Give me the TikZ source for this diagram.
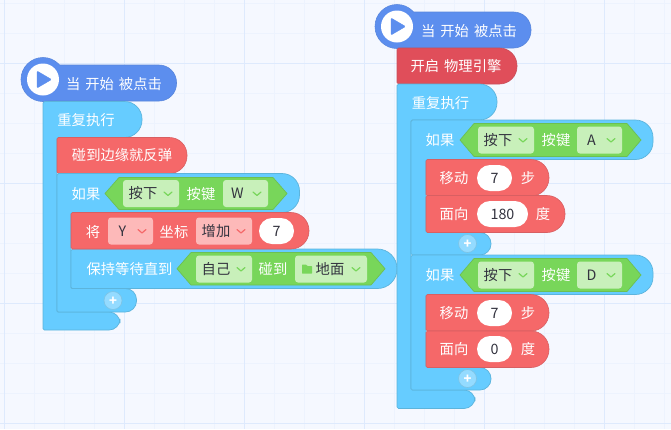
\documentclass[tikz,border=0pt]{standalone}
\usepackage{fontspec}
\usepackage{xcolor}
\setmainfont{Noto Sans CJK SC}
\usetikzlibrary{positioning,calc}

\definecolor{bgsheet}{HTML}{F5F8FF}
\definecolor{gridminor}{HTML}{EDF3FE}
\definecolor{gridmajor}{HTML}{DEEAFD}
\definecolor{hatblue}{HTML}{5C8EEE}
\definecolor{hatedge}{HTML}{5886DC}
\definecolor{ctrlblue}{HTML}{66CCFF}
\definecolor{ctrledge}{HTML}{5CB4DC}
\definecolor{motionred}{HTML}{F56869}
\definecolor{motionedge}{HTML}{D85F62}
\definecolor{physred}{HTML}{E04E5A}
\definecolor{physedge}{HTML}{C8505C}
\definecolor{sensegreen}{HTML}{78D65A}
\definecolor{senseedge}{HTML}{6CC052}
\definecolor{palegreen}{HTML}{C8F0BA}
\definecolor{palered}{HTML}{FDB9B9}
\definecolor{inktext}{HTML}{33333F}

\tikzset{
  hatblock/.style={fill=hatblue,draw=hatedge,line width=0.6pt},
  ctrlblock/.style={fill=ctrlblue,draw=ctrledge,line width=0.7pt},
  motionblock/.style={fill=motionred,draw=motionedge,line width=0.6pt},
  physblock/.style={fill=physred,draw=physedge,line width=0.6pt},
  hexblock/.style={fill=sensegreen,draw=senseedge,line width=0.7pt,line join=round},
  lbl/.style={text=white,font=\fontsize{14.3}{14.3}\selectfont,inner sep=0pt},
  inklbl/.style={text=inktext,font=\fontsize{14.3}{14.3}\selectfont,inner sep=0pt},
  ovalbox/.style={fill=white,rounded corners=13pt,inner sep=0pt,minimum height=26pt},
  plusbtn/.style={circle,fill=ctrlblue!70!white,draw=ctrledge!80!white,line width=0.6pt,minimum size=18pt,inner sep=0pt,text=white,font=\bfseries\fontsize{13}{13}\selectfont},
  chev/.style={line width=1.2pt,line cap=round,line join=round},
}

% block with a pill end on the right
\newcommand{\pillblock}[6]{%
  \path[#5,rounded corners=1.5pt] (#1,#2) [rounded corners=#6pt] -- (#3,#2) -- (#3,#4) [rounded corners=1.5pt] -- (#1,#4) -- cycle;}
% C shaped block: head, column, foot
\newcommand{\cblock}[8]{%
  \path[ctrlblock,rounded corners=1.5pt] (#1,#2) [rounded corners=17.5pt] -- (#3,#2) -- (#3,#4)
    [rounded corners=1pt] -- (#5,#4) -- (#5,#6) [rounded corners=11pt] -- (#7,#6) -- (#7,#8)
    [rounded corners=1.5pt] -- (#1,#8) -- cycle;}
% green hexagon slot
\newcommand{\hexslot}[4]{%
  \path[hexblock] (#1,{(#3+#4)/2}) -- ({#1+14},#3) -- ({#2-14},#3) -- (#2,{(#3+#4)/2}) -- ({#2-14},#4) -- ({#1+14},#4) -- cycle;}
% dropdown box: name, left, right, mid y, fill, chevron colour, text
\newcommand{\dropbox}[7]{%
  \node[fill=#5,rounded corners=3pt,minimum width={(#3-#2)*1pt},minimum height=27pt,inner sep=0pt] (#1) at ({(#2+#3)/2},#4) {};
  \node[inklbl] (#1txt) at ({(#2+#3)/2-8},#4) {#7};
  \draw[chev,#6] ({#3-15},{#4-1.5}) -- ({#3-11},{#4+2}) -- ({#3-7},{#4-1.5});}
% start hat with the play button
\newcommand{\hathead}[5]{%
  \path[hatblock] (#1,#2) circle (22);
  \pillblock{#1}{#2-14.5}{#3}{#2+21.5}{hatblock}{17.5}
  \fill[hatblue] (#1,#2) circle (21.5);
  \fill[white] (#1,#2) circle (16);
  \fill[hatblue,rounded corners=1pt,draw=hatblue] ({#1-6},{#2-8.5}) -- ({#1+8.5},#2) -- ({#1-6},{#2+8.5}) -- cycle;
  \node[lbl] (#4) at (#5,{#2+4.5}) {当\hspace{5pt}开始\hspace{5pt}被点击};}
\newcommand{\plussign}{\smash{\raisebox{-4.5pt}{+}}}

\begin{document}
\begin{tikzpicture}[x=1pt,y=-1pt]
\useasboundingbox (0,0) rectangle (671,429);
\fill[bgsheet] (0,0) rectangle (671,429);

% Draw background grid
\foreach \gx in {4.5,34.5,...,664.5} {
    \draw[gridminor,line width=1pt] (\gx,0) -- (\gx,429);
}
\foreach \gy in {3.3,33.3,...,423.3} {
    \draw[gridminor,line width=1pt] (0,\gy) -- (671,\gy);
}
\foreach \gx in {4.5,124.5,...,604.5} {
    \draw[gridmajor,line width=1pt] (\gx,0) -- (\gx,429);
}
\foreach \gy in {63.3,183.3,303.3,423.3} {
    \draw[gridmajor,line width=1pt] (0,\gy) -- (671,\gy);
}

% Left stack
\hathead{43}{79.5}{176.5}{hatleft}{114}
\cblock{43}{101.5}{142}{137.5}{57}{312}{120}{330}
\node[lbl] (loopleft) at (86,120) {重复执行};
\pillblock{57}{137.5}{187}{173.5}{motionblock}{17.5}
\node[lbl] (bounce) at (122,155.5) {碰到边缘就反弹};

\cblock{57}{173.5}{299.5}{212.5}{71}{288.5}{136.5}{312}
\node[lbl] (ifw) at (86,194) {如果};
\hexslot{105}{287}{177.5}{209.5}
\dropbox{pressw}{123}{179}{193.5}{palegreen}{sensegreen}{按下}
\node[lbl] (keyw) at (201,194) {按键};
\dropbox{wkey}{223}{268}{193.5}{palegreen}{sensegreen}{W}

\pillblock{71}{249}{397}{288.5}{ctrlblock}{19.5}
\pillblock{71}{212.5}{309}{249}{motionblock}{18}
\node[lbl] (jiang) at (93,232) {将};
\dropbox{ycoord}{108}{153}{231}{palered}{motionred}{Y}
\node[lbl] (coord) at (174,232) {坐标};
\dropbox{addmode}{196}{252}{231}{palered}{motionred}{增加}
\node[ovalbox,minimum width=35pt,inklbl] (seven) at (276.5,231) {7};

\node[lbl] (waituntil) at (129.5,269) {保持等待直到};
\hexslot{177}{385}{252.5}{285}
\dropbox{selfbox}{196}{252}{269}{palegreen}{sensegreen}{自己}
\node[lbl] (touch) at (273,269) {碰到};
\dropbox{ground}{295}{367}{269}{palegreen}{sensegreen}{\hspace*{14pt}地面}
\fill[sensegreen,rounded corners=0.5pt] (302,273.5) -- (302,264.5) -- (306,264.5) -- (307.5,266) -- (312,266) -- (312,273.5) -- cycle;
\node[plusbtn] (plusleft) at (113,300.5) {\plussign};

% Right stack
\hathead{397}{26.5}{531}{hatright}{469}
\pillblock{397}{48}{517}{84}{physblock}{17.5}
\node[lbl] (physics) at (456,66.5) {开启\hspace{5pt}物理引擎};
\cblock{397}{84}{497}{120}{411}{390}{475}{408.5}
\node[lbl] (loopright) at (440.5,103) {重复执行};

% Two key branches
\foreach \nm/\ky/\kk in {a/120/A,d/255/D} {
    \cblock{411}{\ky}{653}{\ky+39.5}{426}{\ky+112.5}{491}{\ky+135}
    \node[lbl] (if\nm) at (440,\ky+20.5) {如果};
    \hexslot{460}{641}{\ky+3.5}{\ky+36.5}
    \dropbox{press\nm}{478}{534}{\ky+20}{palegreen}{sensegreen}{按下}
    \node[lbl] (key\nm) at (556,\ky+20.5) {按键};
    \dropbox{key\nm box}{577}{622}{\ky+20}{palegreen}{sensegreen}{\kk}
    \pillblock{426}{\ky+39.5}{549}{\ky+76}{motionblock}{18}
    \node[lbl] (move\nm) at (454,\ky+58) {移动};
    \node[ovalbox,minimum width=35pt,inklbl] (steps\nm) at (494.5,\ky+58) {7};
    \node[lbl] (bu\nm) at (528,\ky+58) {步};
}
\pillblock{426}{195.5}{565}{232.5}{motionblock}{18}
\node[lbl] (facea) at (454,214) {面向};
\node[ovalbox,minimum width=51pt,inklbl] (anglea) at (502.5,214) {180};
\node[lbl] (duba) at (543,214) {度};
\pillblock{426}{331}{549}{367.5}{motionblock}{18}
\node[lbl] (faced) at (454,349) {面向};
\node[ovalbox,minimum width=35pt,inklbl] (angled) at (494.5,349) {0};
\node[lbl] (dubd) at (528,349) {度};
\node[plusbtn] (plusa) at (467.5,243.5) {\plussign};
\node[plusbtn] (plusd) at (467.5,378.5) {\plussign};
\end{tikzpicture}
\end{document}
